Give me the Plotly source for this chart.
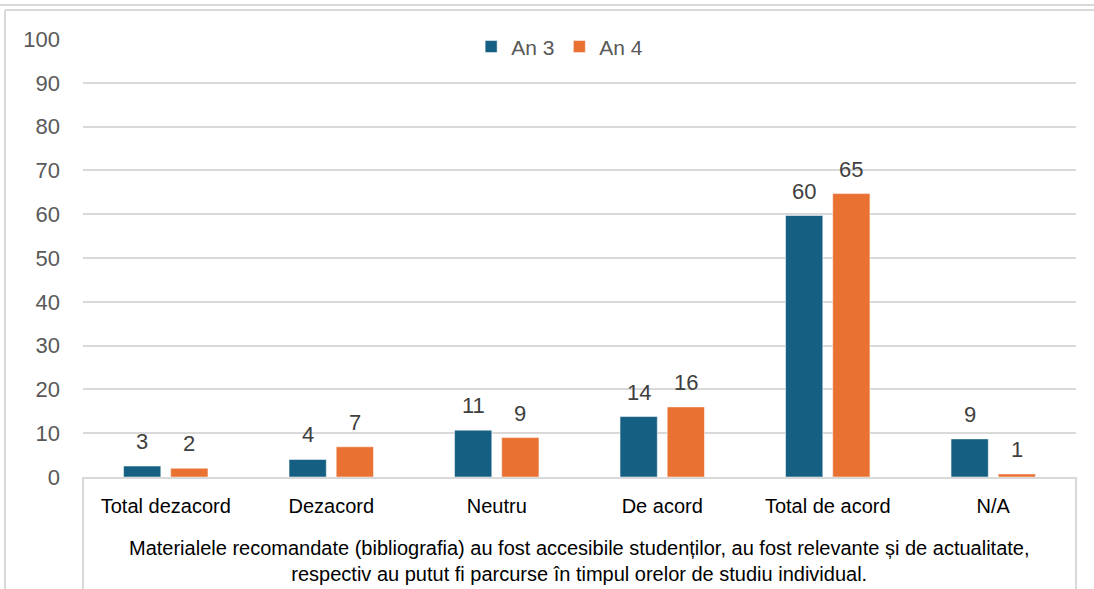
import plotly.graph_objects as go

categories = ["Total dezacord", "Dezacord", "Neutru", "De acord", "Total de acord", "N/A"]
an3_values = [2.5, 4.0, 10.7, 13.8, 59.7, 8.7]
an4_values = [2.0, 6.9, 9.0, 16.0, 64.7, 0.7]
series_names = ["An 3", "An 4"]
y_ticks = [0, 10, 20, 30, 40, 50, 60, 70, 80, 90, 100]
x_title = ("Materialele recomandate (bibliografia) au fost accesibile studenților, au fost relevante și de actualitate,"
           "<br>respectiv au putut fi parcurse în timpul orelor de studiu individual.")

C3 = "#156082"
C4 = "#E97132"
GRID = "#D9D9D9"
FONT = "Liberation Sans, Arial, sans-serif"

W, H = 1094, 589
ML, MR, MT, MB = 83, 18, 39, 112
PW = W - ML - MR
PH = H - MT - MB

fig = go.Figure()
for name, vals, col in [(series_names[0], an3_values, C3), (series_names[1], an4_values, C4)]:
    fig.add_trace(go.Bar(
        name=name, x=categories, y=vals,
        marker=dict(color=col, line=dict(color="rgba(255,255,255,0.5)", width=1)),
        hoverinfo="x+y",
    ))

# data labels via annotations, offset to each bar of the group
BARGAP = 0.43
cat_w = PW / len(categories)
slot = cat_w * (1 - BARGAP) / 2
for k, vals in enumerate([an3_values, an4_values]):
    shift = (-0.5 + k) * slot
    for c, v in zip(categories, vals):
        label = str(int(v + 0.5))
        fig.add_annotation(x=c, y=v, xref="x", yref="y", text=label,
                           showarrow=False, xshift=shift, yshift=10, yanchor="bottom",
                           font=dict(family=FONT, size=22, color="#404040"))

def px_x(p):
    return (p - ML) / PW

def px_y(p):
    return (H - MB - p) / PH

# axis title as a paper annotation (two lines)
fig.add_annotation(x=0.5, y=px_y(561), xref="paper", yref="paper", text=x_title,
                   showarrow=False, xanchor="center", yanchor="middle",
                   font=dict(family=FONT, size=20, color="#000000"))

line = dict(color=GRID, width=2)
shapes = [
    # table box around category labels
    dict(type="line", xref="paper", yref="paper", x0=0, x1=0, y0=0, y1=px_y(H), line=line),
    dict(type="line", xref="paper", yref="paper", x0=1, x1=1, y0=0, y1=px_y(H), line=line),
    # outer frame
    dict(type="line", xref="paper", yref="paper", x0=px_x(5), x1=px_x(5), y0=px_y(10), y1=px_y(H), line=line),
    dict(type="line", xref="paper", yref="paper", x0=px_x(0), x1=px_x(W), y0=px_y(5), y1=px_y(5), line=line),
    dict(type="line", xref="paper", yref="paper", x0=px_x(5), x1=px_x(W), y0=px_y(10), y1=px_y(10), line=line),
]

fig.update_layout(
    width=W, height=H,
    margin=dict(l=ML, r=MR, t=MT, b=MB, autoexpand=False),
    paper_bgcolor="white", plot_bgcolor="white",
    barmode="group", bargap=BARGAP, bargroupgap=0.21,
    font=dict(family=FONT, size=20, color="#595959"),
    legend=dict(orientation="h", x=0.48, y=0.982, xanchor="center", yanchor="middle",
                font=dict(family=FONT, size=21, color="#595959"), bgcolor="rgba(0,0,0,0)",
                itemwidth=30, traceorder="normal"),
    shapes=shapes,
    xaxis=dict(
        showgrid=False, showline=True, linecolor=GRID, linewidth=2, automargin=False,
        tickfont=dict(family=FONT, size=20, color="#000000"), ticks="", ticklabelstandoff=10,
    ),
    yaxis=dict(
        range=[0, 100], tickvals=y_ticks, showgrid=True, gridcolor=GRID, gridwidth=1.5,
        zeroline=False, showline=False, ticks="", ticklabelstandoff=22, automargin=False,
        tickfont=dict(family=FONT, size=22, color="#595959"),
    ),
)

fig.write_html("out.html", config={"displayModeBar": False},
               post_script="document.body.style.margin='0';")
